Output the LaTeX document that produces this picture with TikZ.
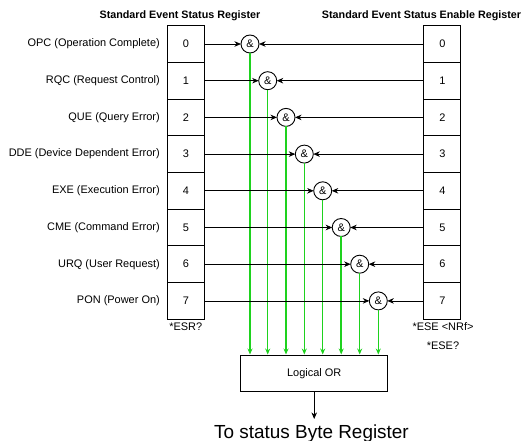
\documentclass[tikz,border=0pt]{standalone}
\usepackage{fontspec}
\setmainfont{Liberation Sans}
\usetikzlibrary{arrows.meta}
\definecolor{orgreen}{RGB}{30,210,30}
\begin{document}
\begin{tikzpicture}[x=1bp,y=-1bp,
  font=\fontsize{11}{13}\selectfont,
  regbox/.style={draw, line width=0.9bp, minimum width=37bp, minimum height=36.7bp, inner sep=0pt, outer sep=0pt},
  andgate/.style={circle, draw, line width=0.9bp, minimum size=18bp, inner sep=0pt, outer sep=0pt},
  sigline/.style={line width=0.8bp, -{Stealth[length=6.5bp,width=5.5bp,inset=2bp]}},
  greenline/.style={orgreen, line width=1.5bp, -{Stealth[length=6bp,width=5bp,inset=2bp]}},
  title/.style={font=\fontsize{10.8}{12}\selectfont\bfseries, anchor=base},
  note/.style={anchor=center}
]
\useasboundingbox (0,0) rectangle (527,441);
\node[title] (t1) at (180,18.5) {Standard Event Status Register};
\node[title] (t2) at (421.5,18.5) {Standard Event Status Enable Register};
\node[draw, line width=0.9bp, minimum width=147bp, minimum height=36.7bp, inner sep=0pt] (OR) at (314.2,373.3) {Logical OR};
\foreach \k/\gx/\lab in {0/250/OPC (Operation Complete),1/267.7/RQC (Request Control),2/286/QUE (Query Error),3/304.3/DDE (Device Dependent Error),4/322.7/EXE (Execution Error),5/341.2/CME (Command Error),6/359.7/URQ (User Request),7/378.3/PON (Power On)}{
  \node[regbox] (L\k) at (185.8,{44+36.7*\k}) {\k};
  \node[regbox] (R\k) at (442.3,{44+36.7*\k}) {\k};
  \node[anchor=east, inner sep=0pt] (T\k) at (160,{44+36.7*\k}) {\lab};
  \node[andgate] (A\k) at (\gx,{44+36.7*\k}) {\&};
  \draw[sigline] (L\k.east) -- (A\k.west);
  \draw[sigline] (R\k.west) -- (A\k.east);
  \draw[greenline] (A\k.south) -- (A\k.south |- OR.north);
}
\node[note] (esr) at (185.8,327) {*ESR?};
\node[note] (ese) at (443,327) {*ESE <NRf>};
\node[note] (eseq) at (443,346) {*ESE?};
\coordinate (out) at (314.2,419);
\draw[sigline] (OR.south) -- (out);
\node[anchor=base, inner sep=0pt, font=\fontsize{19}{22}\selectfont] (dest) at (311.5,438) {To status Byte Register};
\end{tikzpicture}
\end{document}
